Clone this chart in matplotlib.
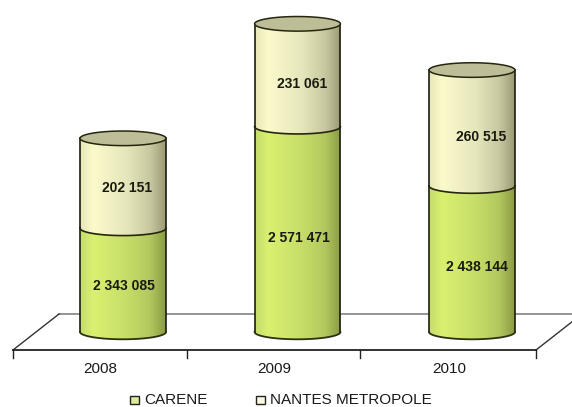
import numpy as np
import matplotlib
matplotlib.use('Agg')
import matplotlib.pyplot as plt
from matplotlib.colors import LinearSegmentedColormap
from matplotlib.patches import Polygon, Rectangle

plt.rcParams['font.family'] = ['Liberation Sans', 'DejaVu Sans']

# Data
years = ['2008', '2009', '2010']
carene = [2343085, 2571471, 2438144]
nantes = [202151, 231061, 260515]
carene_labels = ['2 343 085', '2 571 471', '2 438 144']
nantes_labels = ['202 151', '231 061', '260 515']
series_names = ['CARENE', 'NANTES METROPOLE']

# axis starts well above zero in the original, 3d look is faked below
y_min = 2110000
px_per_unit = 4.45e-4
base_px = 332
half_w = 0.246 # bar half width, in category units
semi_h = 7.3 / px_per_unit # ellipse height, in value units

# small nudges so the labels sit where the original has them
label_dx_green = [0.004, 0.011, 0.027]
label_dx_cream = [0.023, 0.026, 0.052]
label_dy_cream = [-5, -9, -9]
label_dy_green = [-6, -9, -8]

green_map = LinearSegmentedColormap.from_list('green', [(0, '#c4dc6c'), (0.15, '#d9f070'), (0.55, '#c6de68'), (0.82, '#b2c85e'), (1, '#8a9a44')])
cream_map = LinearSegmentedColormap.from_list('cream', [(0, '#e6e6b8'), (0.15, '#fafacb'), (0.55, '#e6e6bc'), (0.82, '#c8c8a0'), (1, '#9a9a76')])

fig = plt.figure(figsize=(5.72, 4.07), dpi=100)

# pixel axes for floor and legend
bg = fig.add_axes([0, 0, 1, 1])
bg.set_xlim(0, 572)
bg.set_ylim(407, 0)
bg.axis('off')

bg.plot([59, 582], [314, 314], color='#8c8c8c', lw=1.3)
bg.plot([13, 59], [350, 314], color='#333333', lw=1)
bg.plot([536, 582], [350, 314], color='#333333', lw=1)
bg.plot([13, 536], [350, 350], color='#222222', lw=1.3)
for x_tick in [13, 187, 360, 536]:
    bg.plot([x_tick, x_tick], [350, 358], color='#222222', lw=1)
for x_lab, year in zip([100, 274, 449], years):
    bg.text(x_lab, 369, year, ha='center', va='center', fontsize=11, color='#1a1a1a')

bg.add_patch(Rectangle((130, 396), 9, 8, fc='#dcea9a', ec='#222222', lw=1))
bg.add_patch(Rectangle((256, 396), 9, 8, fc='#fafade', ec='#222222', lw=1))
bg.text(144, 400, series_names[0], ha='left', va='center', fontsize=11, color='#1a1a1a')
bg.text(270, 400, series_names[1], ha='left', va='center', fontsize=11, color='#1a1a1a')

# data axes, same area
ax = fig.add_axes([0, 0, 1, 1])
ax.patch.set_alpha(0)
ax.axis('off')
x_scale = 174.5
xlim = (-123 / x_scale, (572 - 123) / x_scale)
ylim = (y_min - (407 - base_px) / px_per_unit, y_min + base_px / px_per_unit)

theta = np.linspace(0, np.pi, 60)


def cylinder(x, y0, y1, cmap, bottom):
    # body outline: front arc at the bottom and back arc of the top is hidden by the lid
    xs = x + half_w * np.cos(theta)
    low = y0 - semi_h * np.sin(theta)
    high = y1 - semi_h * np.sin(theta)
    pts = np.vstack([np.column_stack([xs, low]), np.column_stack([xs[::-1], high[::-1]])])
    poly = Polygon(pts, closed=True, fc='none', ec='none', transform=ax.transData)
    ax.add_patch(poly)
    grad = np.linspace(0, 1, 128).reshape(1, -1)
    im = ax.imshow(grad, cmap=cmap, aspect='auto', extent=(x - half_w, x + half_w, y0 - semi_h, y1 + semi_h), zorder=2)
    im.set_clip_path(poly)
    ax.plot([x - half_w, x - half_w], [y0, y1], color='#1c1c10', lw=1.2, zorder=4)
    ax.plot([x + half_w, x + half_w], [y0, y1], color='#1c1c10', lw=1.2, zorder=4)
    if bottom:
        ax.plot(xs, low, color='#2c3010', lw=1.3, zorder=4)


for i in range(len(years)):
    y_green = carene[i]
    y_top = carene[i] + nantes[i]
    cylinder(i, y_min, y_green, green_map, True)
    cylinder(i, y_green, y_top, cream_map, False)

    # seam between the two parts
    xs = i + half_w * np.cos(theta)
    ax.plot(xs, y_green - semi_h * np.sin(theta), color='#26260f', lw=1.2, zorder=5)

    # lid
    t = np.linspace(0, 2 * np.pi, 120)
    lid = Polygon(np.column_stack([i + half_w * np.cos(t), y_top + semi_h * np.sin(t)]), closed=True,
                  fc='#bdbd98', ec='#26260f', lw=1.1, zorder=5)
    ax.add_patch(lid)

    ax.text(i + label_dx_green[i], (y_min + y_green) / 2 + label_dy_green[i] / px_per_unit, carene_labels[i],
            ha='center', va='center', fontsize=10, fontweight='bold', color='#1a1a10', zorder=6)
    ax.text(i + label_dx_cream[i], (y_green + y_top) / 2 + label_dy_cream[i] / px_per_unit, nantes_labels[i],
            ha='center', va='center', fontsize=10, fontweight='bold', color='#1a1a10', zorder=6)

ax.set_xlim(xlim)
ax.set_ylim(ylim)

fig.savefig('out.png', dpi=100)
